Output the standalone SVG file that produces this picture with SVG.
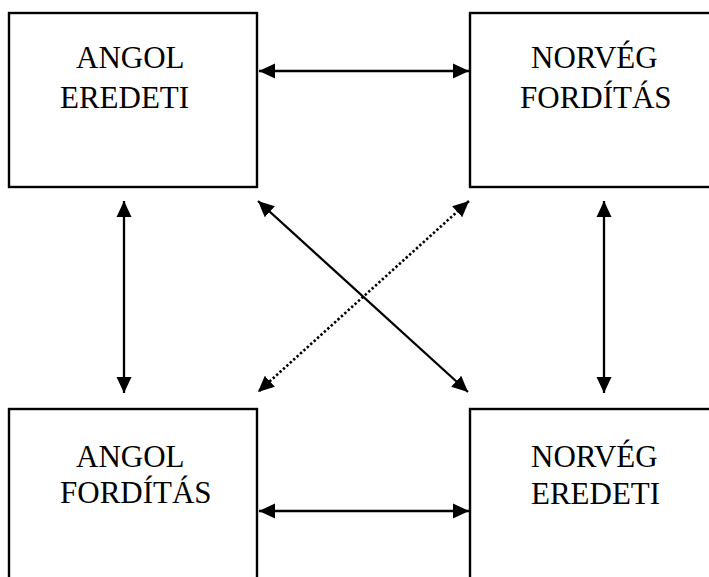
<svg xmlns="http://www.w3.org/2000/svg" width="709" height="577" viewBox="0 0 709 577">
<style>
.box{fill:#fff;stroke:#000;stroke-width:2.4}
.lbl{font-family:"Liberation Serif","Times New Roman",serif;font-size:31px;fill:#000}
.conn{stroke:#000;stroke-width:2.3;fill:none;marker-start:url(#ah);marker-end:url(#ah)}
.dot{stroke-width:2.6;stroke-dasharray:2.4 2.2}
</style>
<defs>
<marker id="ah" markerUnits="userSpaceOnUse" markerWidth="17" markerHeight="17" viewBox="0 0 17 17" refX="16" refY="8" orient="auto-start-reverse">
<path d="M0,0.5 L16,8 L0,15.5 z" fill="#000"/>
</marker>
</defs>
<rect width="709" height="577" fill="#fff"/>
<g id="angol-eredeti">
<rect class="box" x="9" y="13" width="248" height="174"/>
<text class="lbl" x="76" y="68">ANGOL</text>
<text class="lbl" x="60" y="108">EREDETI</text>
</g>
<g id="norveg-forditas">
<rect class="box" x="470" y="13" width="250" height="174"/>
<text class="lbl" x="531" y="68">NORVÉG</text>
<text class="lbl" x="520" y="108">FORDÍTÁS</text>
</g>
<g id="angol-forditas">
<rect class="box" x="9" y="409" width="248" height="200"/>
<text class="lbl" x="76" y="467">ANGOL</text>
<text class="lbl" x="60" y="503">FORDÍTÁS</text>
</g>
<g id="norveg-eredeti">
<rect class="box" x="470" y="409" width="250" height="200"/>
<text class="lbl" x="531" y="467">NORVÉG</text>
<text class="lbl" x="531" y="504">EREDETI</text>
</g>
<g id="connectors">
<line class="conn" x1="259" y1="71" x2="469" y2="71"/>
<line class="conn" x1="259" y1="511" x2="469" y2="511"/>
<line class="conn" x1="124" y1="201" x2="124" y2="393"/>
<line class="conn" x1="604" y1="201" x2="604" y2="393"/>
<line class="conn" x1="258" y1="201" x2="468" y2="392"/>
<line class="conn dot" x1="469" y1="201" x2="258" y2="392"/>
</g>
</svg>
